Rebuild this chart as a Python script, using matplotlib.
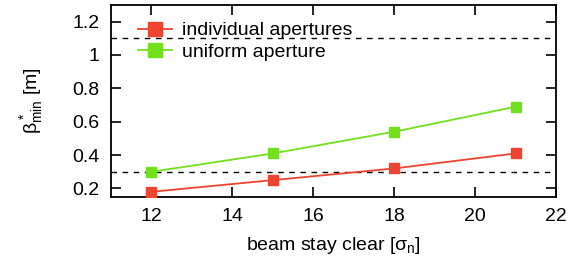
import matplotlib
matplotlib.use("Agg")
import matplotlib.pyplot as plt

plt.rcParams['font.family'] = ['Liberation Sans', 'DejaVu Sans']
plt.rcParams['mathtext.fontset'] = 'custom'
plt.rcParams['mathtext.rm'] = 'Liberation Sans'
plt.rcParams['mathtext.it'] = 'Liberation Sans'

bsc = [12, 15, 18, 21]
individual = [0.18, 0.25, 0.32, 0.41]
uniform = [0.30, 0.41, 0.54, 0.69]
ref_levels = [0.3, 1.1]
xticks = [12, 14, 16, 18, 20, 22]
yticks = [0.2, 0.4, 0.6, 0.8, 1.0, 1.2]
ytick_labels = ['0.2', '0.4', '0.6', '0.8', '1', '1.2']

fig = plt.figure(figsize=(5.72, 2.6), dpi=100)
ax = fig.add_axes([0.194, 0.243, 0.778, 0.738])

for lvl in ref_levels:
    ax.axhline(lvl, color='black', lw=1.0, ls=(0, (4, 4)), zorder=1)

ax.plot(bsc, individual, color='#ee4430', marker='s', ms=7, lw=1.3,
        label='individual apertures', zorder=3)
ax.plot(bsc, uniform, color='#72e01c', marker='s', ms=7, lw=1.3,
        label='uniform aperture', zorder=3)

ax.set_xlim(11, 22)
ax.set_ylim(0.15, 1.3)
ax.set_xticks(xticks)
ax.set_yticks(yticks)
ax.set_yticklabels(ytick_labels)
ax.tick_params(direction='in', top=True, right=True, length=7, width=1.2,
               labelsize=14, pad=8)
for s in ax.spines.values():
    s.set_linewidth(1.3)

ax.set_xlabel(r'beam stay clear [$\sigma_{\rm n}$]', fontsize=14, labelpad=7)
ax.set_ylabel(r'$\beta^*_{\rm min}$ [m]', fontsize=14, labelpad=20)

leg = ax.legend(loc='upper left', frameon=False, fontsize=14, handlelength=1.75,
                markerscale=1.5, borderaxespad=0.0, labelspacing=0.18,
                handletextpad=0.55, borderpad=0.0,
                bbox_to_anchor=(0.06, 0.912))

fig.savefig('out.png', dpi=100)
